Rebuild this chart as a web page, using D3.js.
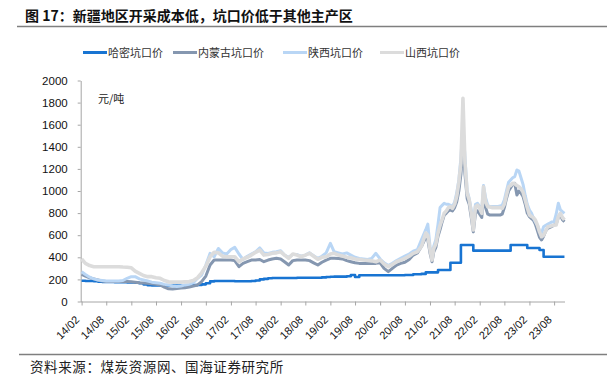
<!DOCTYPE html>
<html><head><meta charset="utf-8">
<script src="https://cdn.jsdelivr.net/npm/d3@7"></script>
<style>
html,body{margin:0;padding:0;background:#fff;}
svg{display:block;}
</style></head>
<body><svg id="c" width="607" height="376"></svg>
<script>
// ---- categories: monthly 2014-02..2020-12, then semi-monthly 2021-01..2023-10
const monthlyDates = [
"2014-02","2014-03","2014-04","2014-05","2014-06","2014-07","2014-08","2014-09","2014-10","2014-11","2014-12",
"2015-01","2015-02","2015-03","2015-04","2015-05","2015-06","2015-07","2015-08","2015-09","2015-10","2015-11","2015-12",
"2016-01","2016-02","2016-03","2016-04","2016-05","2016-06","2016-07","2016-08","2016-09","2016-10","2016-11","2016-12",
"2017-01","2017-02","2017-03","2017-04","2017-05","2017-06","2017-07","2017-08","2017-09","2017-10","2017-11","2017-12",
"2018-01","2018-02","2018-03","2018-04","2018-05","2018-06","2018-07","2018-08","2018-09","2018-10","2018-11","2018-12",
"2019-01","2019-02","2019-03","2019-04","2019-05","2019-06","2019-07","2019-08","2019-09","2019-10","2019-11","2019-12",
"2020-01","2020-02","2020-03","2020-04","2020-05","2020-06","2020-07","2020-08","2020-09","2020-10","2020-11","2020-12"];
const semiDates = [
"2021-01-01","2021-01-16","2021-02-01","2021-02-16","2021-03-01","2021-03-16","2021-04-01","2021-04-16","2021-05-01","2021-05-16","2021-06-01","2021-06-16",
"2021-07-01","2021-07-16","2021-08-01","2021-08-16","2021-09-01","2021-09-16","2021-10-01","2021-10-16","2021-11-01","2021-11-16","2021-12-01","2021-12-16",
"2022-01-01","2022-01-16","2022-02-01","2022-02-16","2022-03-01","2022-03-16","2022-04-01","2022-04-16","2022-05-01","2022-05-16","2022-06-01","2022-06-16",
"2022-07-01","2022-07-16","2022-08-01","2022-08-16","2022-09-01","2022-09-16","2022-10-01","2022-10-16","2022-11-01","2022-11-16","2022-12-01","2022-12-16",
"2023-01-01","2023-01-16","2023-02-01","2023-02-16","2023-03-01","2023-03-16","2023-04-01","2023-04-16","2023-05-01","2023-05-16","2023-06-01","2023-06-16",
"2023-07-01","2023-07-16","2023-08-01","2023-08-16","2023-09-01","2023-09-16","2023-10-01","2023-10-16"];

// ---- series values (元/吨)
const hami = [
188,186,185,183,180,178,177,176,175,175,174,
173,172,170,165,155,148,145,145,145,145,145,145,
145,145,145,145,148,150,155,165,182,185,185,185,
185,185,183,183,183,183,185,190,200,205,210,212,
213,213,213,213,213,215,215,215,215,215,215,218,
222,224,225,225,225,228,240,222,238,238,238,238,
238,238,238,238,238,238,238,240,240,246,246,250,
264,264,264,264,264,264,285,285,285,285,285,285,351,351,351,351,351,511,511,511,511,511,511,460,
460,460,460,460,460,460,460,460,460,460,460,460,460,460,460,460,460,511,511,511,511,511,511,511,
511,484,484,484,484,484,484,466,466,405,405,405,405,405,405,405,405,405,405,405];
const neimenggu = [
245,230,215,205,195,185,182,180,180,180,180,
180,178,175,170,168,165,160,155,150,130,115,113,
118,122,125,130,140,150,180,230,330,375,375,375,
375,375,370,315,345,360,375,375,380,360,375,385,
391,385,360,330,370,375,375,375,370,350,330,355,
375,391,391,390,385,370,360,350,345,345,345,345,
345,350,300,270,300,330,345,355,380,420,440,500,
580,560,440,360,450,490,590,650,720,780,800,820,830,820,850,900,1000,1150,1400,1150,930,880,760,630,
800,820,790,760,960,850,790,783,783,783,783,783,783,790,850,930,1000,1030,1060,1070,964,1000,980,950,
880,800,767,750,738,700,640,580,557,590,640,662,670,680,692,700,760,783,740,722];
const shaanxi = [
270,245,220,205,195,190,185,185,185,185,190,
210,225,225,205,195,185,175,170,165,155,150,140,
135,140,150,155,170,210,240,330,436,405,480,440,
430,470,490,430,380,410,430,450,485,440,435,445,
450,460,420,400,425,425,410,420,440,415,390,410,
440,527,450,440,430,440,420,400,390,385,380,390,
436,385,350,325,345,370,390,410,430,455,470,560,
650,700,500,400,500,560,700,850,870,889,880,880,870,860,900,980,1100,1300,1600,1300,1000,930,828,700,
880,889,860,820,1050,940,870,860,860,860,860,860,865,870,920,1000,1080,1100,1120,1130,1190,1180,1120,1060,
960,880,828,800,760,722,690,640,620,677,690,700,710,720,722,790,889,830,813,798];
const shanxi = [
385,345,325,315,315,315,315,315,315,315,312,
310,305,275,255,235,225,225,215,210,190,178,175,
175,175,178,180,190,215,260,320,405,445,440,410,
405,405,405,360,385,400,420,445,465,420,425,436,
440,450,420,391,430,420,405,420,436,410,382,400,
405,430,436,420,412,400,395,385,380,375,372,368,
360,375,340,315,335,360,375,391,410,436,450,500,
620,600,470,375,480,520,620,690,740,798,820,850,858,843,880,948,1080,1250,1839,1250,979,918,800,647,
858,873,840,798,1039,900,858,855,850,850,850,850,850,843,880,960,1039,1050,1070,1065,1050,1039,1020,990,
918,850,783,770,760,738,690,630,586,600,640,677,680,685,690,692,770,798,760,738];

const seriesNames = ["哈密坑口价","内蒙古坑口价","陕西坑口价","山西坑口价"];
const seriesColors = ["#1874d2","#8597b0","#b9d6f5","#dcdcdc"];
const xTickLabels = ["14/02","14/08","15/02","15/08","16/02","16/08","17/02","17/08","18/02","18/08",
"19/02","19/08","20/02","20/08","21/02","21/08","22/02","22/08","23/02","23/08"];
const yTicks = [0,200,400,600,800,1000,1200,1400,1600,1800,2000];

// ---- build
const svg = d3.select("#c");
const parseD = s => s.length === 7 ? d3.timeParse("%Y-%m")(s) : d3.timeParse("%Y-%m-%d")(s);
const dates = monthlyDates.concat(semiDates).map(parseD);
const allSeries = [hami, neimenggu, shaanxi, shanxi];
const widths = [2.6, 3, 3, 3.6];

const x = d3.scaleTime().domain([new Date(2014,1,1), new Date(2023,9,20)]).range([81.6, 565]);
const y = d3.scaleLinear().domain([0,2000]).range([301.5, 80.5]);

const font = "'Liberation Sans', Arial, sans-serif";
const cjk = "'Noto Sans CJK SC', sans-serif";

// title
svg.append("text").attr("x",25).attr("y",21).attr("font-family",cjk).attr("font-weight","bold")
  .attr("font-size",14).attr("fill","#111").text("图 17：新疆地区开采成本低，坑口价低于其他主产区");
svg.append("line").attr("x1",17).attr("x2",607).attr("y1",26.5).attr("y2",26.5).attr("stroke","#7f7f7f").attr("stroke-width",1.5);
svg.append("line").attr("x1",19).attr("x2",607).attr("y1",354.5).attr("y2",354.5).attr("stroke","#7f7f7f").attr("stroke-width",1.5);
svg.append("text").attr("x",30).attr("y",372).attr("font-family",cjk).attr("font-size",13.5).attr("fill","#222")
  .attr("letter-spacing",0.6).text("资料来源：煤炭资源网、国海证券研究所");

// legend
const legX = [83, 173, 283, 380];
seriesNames.forEach((n,i)=>{
  svg.append("line").attr("x1",legX[i]).attr("x2",legX[i]+24).attr("y1",52.5).attr("y2",52.5)
    .attr("stroke",seriesColors[i]).attr("stroke-width",3);
  svg.append("text").attr("x",legX[i]+25).attr("y",56.5).attr("font-family",cjk).attr("font-size",11)
    .attr("fill","#333").text(n);
});

// axes
const yAxis = svg.append("g").attr("transform","translate(80.7,0)")
  .call(d3.axisLeft(y).tickValues(yTicks).tickSize(3).tickSizeOuter(0).tickFormat(d3.format("d")));
yAxis.select(".domain").attr("stroke","#a6a6a6");
yAxis.selectAll(".tick line").attr("stroke","#a6a6a6");
yAxis.selectAll(".tick text").attr("font-family",font).attr("font-size",11.5).attr("fill","#111").attr("x",-13);

const xTicks = xTickLabels.map(s=>d3.timeParse("%y/%m")(s));
const xAxis = svg.append("g").attr("transform","translate(0,301.5)")
  .call(d3.axisBottom(x).tickValues(xTicks).tickSize(4).tickSizeOuter(0).tickFormat((d,i)=>xTickLabels[i]));
xAxis.select(".domain").attr("stroke","#a6a6a6").attr("d","M80.7,0.5H565");
xAxis.selectAll(".tick line").attr("stroke","#a6a6a6");
xAxis.selectAll(".tick text").attr("font-family",font).attr("font-size",11).attr("fill","#111")
  .attr("text-anchor","end").attr("y",0).attr("dy",0)
  .attr("transform","translate(-2,19) rotate(-45)");

svg.append("text").attr("x",98).attr("y",103).attr("font-family",cjk).attr("font-size",11).attr("fill","#222").text("元/吨");

// lines
allSeries.forEach((vals,i)=>{
  const line = d3.line().x((d,j)=>x(dates[j])).y(d=>y(d))
    .curve(i===0 ? d3.curveStepAfter : d3.curveLinear);
  svg.append("path").datum(vals).attr("fill","none").attr("stroke",seriesColors[i])
    .attr("stroke-width",widths[i]).attr("stroke-linejoin","round").attr("d",line);
});
</script></body></html>
